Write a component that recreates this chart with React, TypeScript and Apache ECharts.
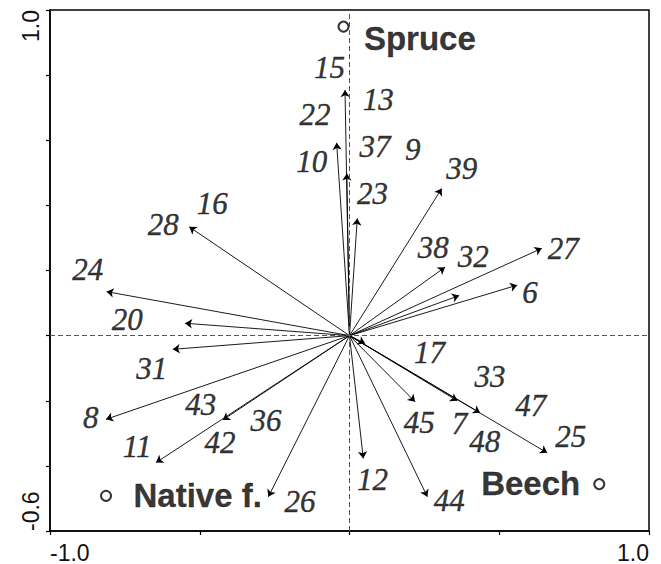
import React, { useEffect, useRef } from "react";
import * as echarts from "echarts";

// Species: arrow tips (null = no arrow drawn) and label positions, in axis units
const speciesNames = ["15", "22", "13", "10", "37", "9", "23", "39", "16", "28", "38", "32", "27", "6", "24", "20", "31", "17", "33", "8", "43", "36", "47", "45", "7", "48", "25", "11", "42", "12", "26", "44"];
const arrowX: (number | null)[] = [-0.015, null, null, -0.043, -0.009, null, 0.026, 0.308, null, -0.535, 0.319, 0.366, 0.642, 0.56, -0.811, -0.549, -0.59, 0.052, null, -0.813, -0.423, null, null, 0.219, 0.36, 0.436, 0.66, -0.646, null, 0.046, -0.271, 0.26];
const arrowY: (number | null)[] = [0.754, null, null, 0.592, 0.498, null, 0.36, 0.452, null, 0.334, 0.21, 0.123, 0.268, 0.155, 0.135, 0.038, -0.042, -0.024, null, -0.257, -0.259, null, null, -0.203, -0.2, -0.237, -0.36, -0.39, null, -0.377, -0.495, -0.495];
const labelX = [-0.067, -0.115, 0.096, -0.126, 0.085, 0.211, 0.077, 0.375, -0.458, -0.622, 0.28, 0.413, 0.714, 0.603, -0.874, -0.742, -0.66, 0.267, 0.469, -0.864, -0.497, -0.279, 0.605, 0.233, 0.367, 0.452, 0.739, -0.709, -0.432, 0.077, -0.165, 0.333];
const labelY = [0.824, 0.68, 0.724, 0.534, 0.58, 0.572, 0.437, 0.514, 0.406, 0.34, 0.271, 0.244, 0.268, 0.132, 0.204, 0.048, -0.1, -0.052, -0.126, -0.251, -0.213, -0.261, -0.216, -0.267, -0.271, -0.326, -0.31, -0.341, -0.329, -0.443, -0.508, -0.505];

// Forest-type centroids
const centroidNames = ["Spruce", "Native f.", "Beech"];
const centroidX = [-0.02, -0.813, 0.834];
const centroidY = [0.949, -0.492, -0.456];
const centroidLabelX = [0.235, -0.507, 0.605];
const centroidLabelY = [0.913, -0.492, -0.454];

// Axis ranges and tick labels
const xMin = -1.0;
const xMax = 1.0;
const xStep = 0.5;
const yMin = -0.6;
const yMax = 1.0;
const yStep = 0.2;
const xTickLabels = ["-1.0", "1.0"];
const yTickLabels = ["-0.6", "1.0"];

const near = (a: number, b: number) => Math.abs(a - b) < 1e-6;

export default function App() {
  const ref = useRef<HTMLDivElement>(null);
  useEffect(() => {
    if (!ref.current) return;
    const chart = echarts.init(ref.current, undefined, { renderer: "svg" });

    const arrows = speciesNames
      .map((n, i) => ({ n, i }))
      .filter(({ i }) => arrowX[i] !== null && arrowY[i] !== null)
      .map(({ n, i }) => ({ name: n, coords: [[0, 0], [arrowX[i] as number, arrowY[i] as number]] }));

    const option: any = {
      animation: false,
      backgroundColor: "#ffffff",
      grid: {
        left: 50,
        right: 12,
        top: 10,
        bottom: 33,
        show: true,
        borderColor: "#000",
        borderWidth: 1.5,
        backgroundColor: "transparent",
      },
      xAxis: {
        type: "value",
        min: xMin,
        max: xMax,
        interval: xStep,
        axisLine: { show: true, onZero: false, lineStyle: { color: "#000", width: 1.5 } },
        axisTick: { show: true, length: 4, lineStyle: { color: "#000", width: 1.2 } },
        splitLine: { show: false },
        axisLabel: {
          show: true,
          showMinLabel: true,
          showMaxLabel: true,
          formatter: (v: number) => (near(v, xMin) ? xTickLabels[0] : near(v, xMax) ? xTickLabels[1] : ""),
          fontSize: 23,
          color: "#111",
          fontFamily: "Liberation Sans",
          margin: 10,
          alignMinLabel: "left",
          alignMaxLabel: "right",
        },
      },
      yAxis: {
        type: "value",
        min: yMin,
        max: yMax,
        interval: yStep,
        axisLine: { show: true, onZero: false, lineStyle: { color: "#000", width: 1.5 } },
        axisTick: { show: true, length: 4, lineStyle: { color: "#000", width: 1.2 } },
        splitLine: { show: false },
        axisLabel: {
          show: true,
          showMinLabel: true,
          showMaxLabel: true,
          rotate: 90,
          formatter: (v: number) => (near(v, yMin) ? yTickLabels[0] : near(v, yMax) ? yTickLabels[1] : ""),
          fontSize: 23,
          color: "#111",
          fontFamily: "Liberation Sans",
          margin: 8,
          alignMinLabel: "left",
          alignMaxLabel: "right",
        },
      },
      series: [
        {
          type: "lines",
          coordinateSystem: "cartesian2d",
          silent: true,
          symbol: ["none", "arrow"],
          symbolSize: 7,
          lineStyle: { color: "#000", width: 0.9, opacity: 1 },
          data: arrows,
          z: 3,
        },
        {
          type: "scatter",
          silent: true,
          symbolSize: 10,
          itemStyle: { color: "#fff", borderColor: "#000", borderWidth: 2 },
          data: centroidNames.map((n, i) => ({ name: n, value: [centroidX[i], centroidY[i]] })),
          markLine: {
            silent: true,
            symbol: "none",
            label: { show: false },
            lineStyle: { color: "#555", width: 1, type: [5, 3] },
            data: [{ xAxis: 0 }, { yAxis: 0 }],
          },
          z: 2,
        },
        {
          type: "scatter",
          silent: true,
          symbolSize: 1,
          itemStyle: { color: "transparent" },
          label: {
            show: true,
            position: "inside",
            formatter: "{b}",
            fontFamily: "Liberation Sans",
            fontWeight: "bold",
            fontSize: 33,
            lineHeight: 33,
            color: "#000",
            textBorderColor: "#000",
            textBorderWidth: 0.3,
          },
          data: centroidNames.map((n, i) => ({ name: n, value: [centroidLabelX[i], centroidLabelY[i]] })),
          z: 4,
        },
        {
          type: "scatter",
          silent: true,
          symbolSize: 1,
          itemStyle: { color: "transparent" },
          label: {
            show: true,
            position: "inside",
            formatter: "{b}",
            fontFamily: "Liberation Serif",
            fontStyle: "italic",
            fontSize: 31,
            lineHeight: 31,
            color: "#000",
            textBorderColor: "#000",
            textBorderWidth: 0.4,
          },
          labelLayout: { hideOverlap: false },
          data: speciesNames.map((n, i) => ({ name: n, value: [labelX[i], labelY[i]] })),
          z: 4,
        },
      ],
    };
    chart.setOption(option);
    return () => chart.dispose();
  }, []);

  return (
    <div
      ref={ref}
      style={{ position: "fixed", left: 0, top: 0, width: 661, height: 564, background: "#fff" }}
    />
  );
}
